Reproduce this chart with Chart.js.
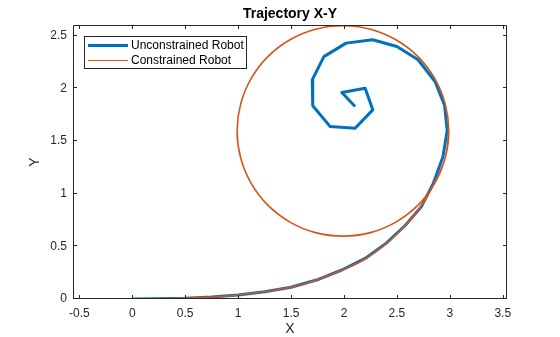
<!DOCTYPE html>
<html>
<head>
<meta charset="utf-8">
<script src="https://cdn.jsdelivr.net/npm/chart.js@4.4.1/dist/chart.umd.min.js"></script>
<style>
  html, body { margin: 0; padding: 0; background: #ffffff; }
  #wrap { width: 560px; height: 337px; }
</style>
</head>
<body>
<div id="wrap"><canvas id="c" width="560" height="337"></canvas></div>
<script>
// ---- Data ----
const unconstrainedX = [0, 0.25, 0.5, 0.75, 1.0, 1.25, 1.5, 1.74, 1.98, 2.2, 2.4, 2.58, 2.73, 2.845, 2.935, 2.975,
  2.95, 2.86, 2.70, 2.50, 2.27, 2.02, 1.81, 1.70, 1.705, 1.87, 2.105, 2.272, 2.2, 1.98, 2.105];
const unconstrainedY = [0, 0.002, 0.008, 0.02, 0.038, 0.068, 0.112, 0.18, 0.275, 0.385, 0.53, 0.70, 0.875, 1.10, 1.35, 1.60,
  1.84, 2.064, 2.27, 2.396, 2.46, 2.428, 2.30, 2.08, 1.833, 1.636, 1.621, 1.795, 2.0, 1.959, 1.826];

const constrainedX = [0, 0.5, 1.0, 1.5, 1.75, 2.0, 2.2, 2.4, 2.58, 2.72, 2.852,
  2.955, 2.99, 2.955, 2.855, 2.697, 2.49, 2.25, 1.99, 1.73, 1.49, 1.283, 1.125, 1.025, 0.99,
  1.025, 1.125, 1.283, 1.49, 1.73, 1.99, 2.25, 2.49, 2.697, 2.855, 2.955, 2.99];
const constrainedY = [0, 0.008, 0.038, 0.112, 0.185, 0.28, 0.38, 0.525, 0.70, 0.87, 1.098,
  1.336, 1.595, 1.854, 2.095, 2.302, 2.46, 2.56, 2.593, 2.56, 2.46, 2.302, 2.095, 1.854, 1.595,
  1.336, 1.095, 0.888, 0.73, 0.63, 0.597, 0.63, 0.73, 0.888, 1.095, 1.336, 1.595];

const xTickValues = [-0.5, 0, 0.5, 1, 1.5, 2, 2.5, 3, 3.5];
const xTickLabels = ['-0.5', '0', '0.5', '1', '1.5', '2', '2.5', '3', '3.5'];
const yTickValues = [0, 0.5, 1, 1.5, 2, 2.5];
const yTickLabels = ['0', '0.5', '1', '1.5', '2', '2.5'];
const seriesNames = ['Unconstrained Robot', 'Constrained Robot'];
const titleText = 'Trajectory X-Y';
const xLabel = 'X';
const yLabel = 'Y';

// ---- Build ----
const FONT = '"Liberation Sans", Arial, Helvetica, sans-serif';
const AX = '#262626';
const BLUE = '#0072BD';
const ORANGE = '#D95319';

const toPts = (xs, ys) => xs.map((x, i) => ({ x: x, y: ys[i] }));

const decor = {
  id: 'decor',
  afterDraw(chart) {
    const ctx = chart.ctx;
    const a = chart.chartArea;
    const xs = chart.scales.x, ys = chart.scales.y;
    ctx.save();
    // box
    ctx.strokeStyle = AX;
    ctx.lineWidth = 1;
    ctx.beginPath();
    ctx.rect(Math.round(a.left) + 0.5, Math.round(a.top) + 0.5,
             Math.round(a.right - a.left) - 1, Math.round(a.bottom - a.top) - 1);
    ctx.stroke();
    // inward ticks
    const TL = 4;
    ctx.beginPath();
    xTickValues.forEach(v => {
      const p = Math.round(xs.getPixelForValue(v)) + 0.5;
      ctx.moveTo(p, a.bottom); ctx.lineTo(p, a.bottom - TL);
      ctx.moveTo(p, a.top); ctx.lineTo(p, a.top + TL);
    });
    yTickValues.forEach(v => {
      const p = Math.round(ys.getPixelForValue(v)) - 0.5;
      ctx.moveTo(a.left, p); ctx.lineTo(a.left + TL, p);
      ctx.moveTo(a.right, p); ctx.lineTo(a.right - TL, p);
    });
    ctx.stroke();

    // title
    ctx.fillStyle = '#000000';
    ctx.font = 'bold 14px ' + FONT;
    ctx.textAlign = 'center';
    ctx.textBaseline = 'middle';
    ctx.fillText(titleText, (a.left + a.right) / 2, 14);

    // axis labels
    ctx.fillStyle = AX;
    ctx.font = '14px ' + FONT;
    ctx.fillText(xLabel, (a.left + a.right) / 2, 329);
    ctx.save();
    ctx.translate(35, (a.top + a.bottom) / 2);
    ctx.rotate(-Math.PI / 2);
    ctx.fillText(yLabel, 0, 0);
    ctx.restore();

    // legend
    const lx = 84.5, ly = 36.5, lw = 162, lh = 32;
    ctx.fillStyle = '#ffffff';
    ctx.fillRect(lx, ly, lw, lh);
    ctx.strokeStyle = AX;
    ctx.lineWidth = 1;
    ctx.strokeRect(lx, ly, lw, lh);
    const rows = [
      { name: seriesNames[0], color: BLUE, w: 3, y: 45 },
      { name: seriesNames[1], color: ORANGE, w: 1, y: 60 }
    ];
    ctx.font = '12px ' + FONT;
    ctx.textAlign = 'left';
    ctx.textBaseline = 'middle';
    rows.forEach(r => {
      ctx.strokeStyle = r.color;
      ctx.lineWidth = r.w;
      ctx.beginPath();
      ctx.moveTo(88, r.y + 0.5);
      ctx.lineTo(128, r.y + 0.5);
      ctx.stroke();
      ctx.fillStyle = '#000000';
      ctx.fillText(r.name, 131, r.y + 1);
    });
    ctx.restore();
  }
};

new Chart(document.getElementById('c'), {
  type: 'scatter',
  data: {
    datasets: [
      {
        label: seriesNames[0],
        data: toPts(unconstrainedX, unconstrainedY),
        showLine: true,
        borderColor: BLUE,
        backgroundColor: BLUE,
        borderWidth: 3,
        pointRadius: 0,
        tension: 0,
        borderJoinStyle: 'round',
        order: 2
      },
      {
        label: seriesNames[1],
        data: toPts(constrainedX, constrainedY),
        showLine: true,
        borderColor: ORANGE,
        backgroundColor: ORANGE,
        borderWidth: 1.6,
        pointRadius: 0,
        tension: 0.4,
        order: 1
      }
    ]
  },
  options: {
    responsive: false,
    animation: false,
    devicePixelRatio: 1,
    layout: { padding: { top: 25, right: 53, left: 0, bottom: 0 } },
    plugins: { legend: { display: false }, title: { display: false }, tooltip: { enabled: false } },
    scales: {
      x: {
        type: 'linear',
        min: -0.56, max: 3.54,
        grid: { display: false, drawTicks: false },
        border: { display: false },
        afterBuildTicks: s => { s.ticks = xTickValues.map(v => ({ value: v })); },
        afterFit: s => { s.height = 38; },
        ticks: {
          autoSkip: false, maxRotation: 0, padding: 7,
          color: AX, font: { family: FONT, size: 12 },
          callback: (v) => { const i = xTickValues.indexOf(v); return i >= 0 ? xTickLabels[i] : ''; }
        }
      },
      y: {
        type: 'linear',
        min: 0, max: 2.6,
        grid: { display: false, drawTicks: false },
        border: { display: false },
        afterBuildTicks: s => { s.ticks = yTickValues.map(v => ({ value: v })); },
        afterFit: s => { s.width = 73; },
        ticks: {
          autoSkip: false, padding: 6,
          color: AX, font: { family: FONT, size: 12 },
          callback: (v) => { const i = yTickValues.indexOf(v); return i >= 0 ? yTickLabels[i] : ''; }
        }
      }
    }
  },
  plugins: [decor]
});
</script>
</body>
</html>
